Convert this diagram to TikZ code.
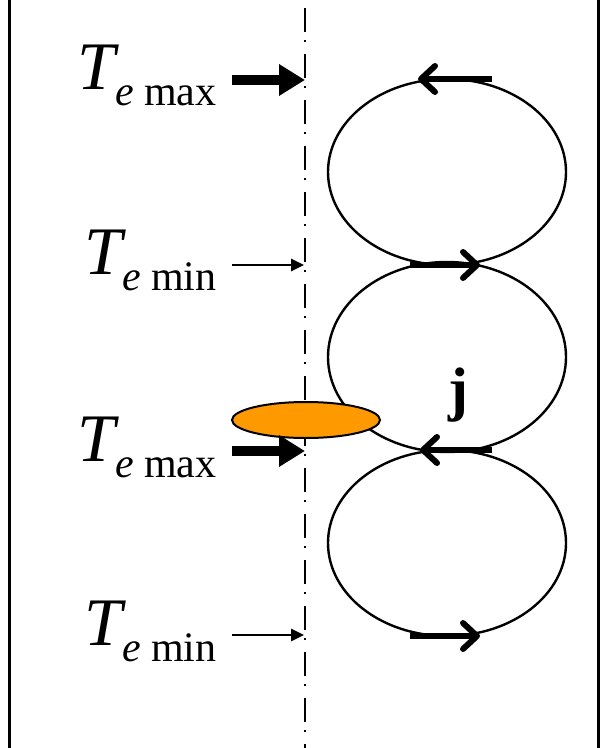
\documentclass[tikz,border=0pt]{standalone}
\usepackage{fontspec}
\setmainfont{Liberation Serif}
\usetikzlibrary{arrows.meta,shapes.geometric}
\definecolor{dropfill}{HTML}{FF9900}
\newcommand\Tlab[1]{{\fontsize{34}{34}\selectfont\itshape T}\raisebox{-8pt}{\fontsize{21}{21}\selectfont{\itshape e} #1}}
\tikzset{loopell/.style={draw,ellipse,line width=1.2pt,inner sep=0pt,outer sep=0pt,minimum width=119pt},
tlab/.style={anchor=base east,inner sep=0pt},
bigarr/.style={-{Triangle[length=13pt,width=15pt]},line width=5pt,shorten <=7.5pt},
smallarr/.style={-{Triangle[length=6.5pt,width=6pt]},line width=1.3pt,shorten <=7.5pt},
looparr/.style={-{Straight Barb[length=7pt,width=13pt,round]},line width=3pt},
wall/.style={line width=1.5pt},
axisline/.style={line width=1pt,dash pattern=on 12pt off 4pt on 1pt off 6pt,dash phase=19pt}}

\begin{document}
\begin{tikzpicture}[x=0.5pt,y=-0.5pt]
\useasboundingbox(0,0)rectangle(602,748);
\draw[wall](9,0)--(9,748);
\draw[wall](598,0)--(598,748);
\draw[axisline](305,0)--(305,748);
\node[loopell,minimum height=186pt*0.5](c1)at(447,172){};
\node[loopell,minimum height=190pt*0.5](c2)at(447,357){};
\node[loopell,minimum height=186pt*0.5](c3)at(447,543){};
\node[draw,ellipse,fill=dropfill,line width=1pt,inner sep=0pt,minimum width=74pt,minimum height=18pt](drop)at(306,420){};
\node[inner sep=0pt,font=\fontsize{30}{30}\selectfont\bfseries](jcur)at(458,395){j};
\node[tlab](tmax1)at(217,90){\Tlab{max}};
\node[tlab](tmin1)at(217,275){\Tlab{min}};
\node[tlab](tmax2)at(217,461){\Tlab{max}};
\node[tlab](tmin2)at(217,645){\Tlab{min}};
\coordinate(a1)at(305,80);
\coordinate(a2)at(304,265);
\coordinate(a3)at(305,451);
\coordinate(a4)at(304,635);
\foreach\lab/\ax/\sty in{tmax1/a1/bigarr,tmin1/a2/smallarr,tmax2/a3/bigarr,tmin2/a4/smallarr}\draw[\sty](\lab.east|-\ax)--(\ax);
\foreach\nd/\a/\b in{c1.north/22.5/-14.5,c1.south/-18.5/16.5,c3.north/22.5/-13.5,c3.south/-18.5/16.5}\draw[looparr]([xshift=\a pt]\nd)--([xshift=\b pt]\nd);
\end{tikzpicture}
\end{document}
